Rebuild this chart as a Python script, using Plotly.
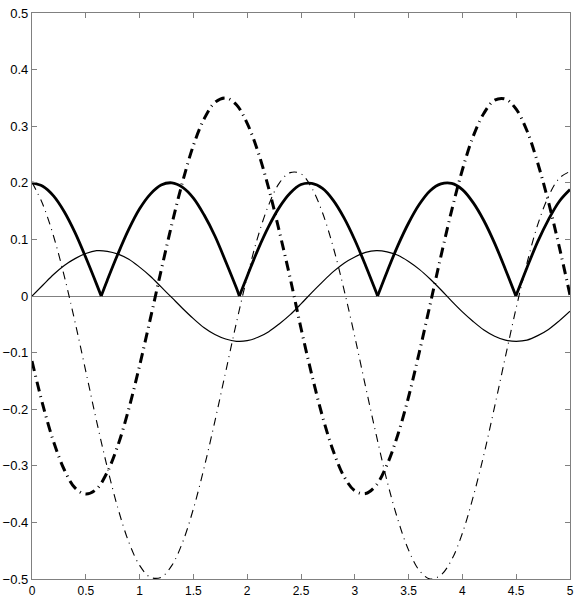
import plotly.graph_objects as go

# sample positions along x (0..5 step 0.1)
x_vals = [round(i * 0.1, 1) for i in range(51)]

# thick solid curve (rectified cosine), values read at x_vals
thick_solid = [0.200, 0.194, 0.177, 0.149, 0.112, 0.068, 0.021, 0.028, 0.075, 0.118,
               0.154, 0.180, 0.196, 0.200, 0.192, 0.173, 0.143, 0.106, 0.061, 0.014,
               0.035, 0.082, 0.123, 0.157, 0.182, 0.197, 0.199, 0.190, 0.169, 0.138,
               0.099, 0.054, 0.006, 0.043, 0.089, 0.129, 0.162, 0.186, 0.198, 0.199,
               0.188, 0.165, 0.133, 0.093, 0.047, 0.001, 0.050, 0.096, 0.135, 0.167,
               0.188]
# where the thick solid curve touches zero
cusp_x = [0.643, 1.927, 3.212, 4.497]

thin_solid = [0.000, 0.019, 0.038, 0.054, 0.066, 0.075, 0.080, 0.079, 0.074, 0.065,
              0.051, 0.035, 0.016, -0.003, -0.022, -0.040, -0.056, -0.068, -0.076, -0.080,
              -0.079, -0.073, -0.063, -0.049, -0.033, -0.014, 0.006, 0.025, 0.043, 0.058,
              0.069, 0.077, 0.080, 0.078, 0.072, 0.061, 0.047, 0.030, 0.011, -0.009,
              -0.028, -0.045, -0.060, -0.071, -0.078, -0.080, -0.078, -0.070, -0.059, -0.044,
              -0.027]

thick_dashdot = [-0.115, -0.192, -0.257, -0.307, -0.339, -0.350, -0.341, -0.311, -0.263, -0.199,
                 -0.123, -0.040, 0.045, 0.127, 0.202, 0.266, 0.313, 0.342, 0.350, 0.338,
                 0.305, 0.255, 0.190, 0.113, 0.031, -0.057, -0.139, -0.213, -0.274, -0.319,
                 -0.344, -0.349, -0.334, -0.298, -0.245, -0.178, -0.099, -0.015, 0.070, 0.151,
                 0.223, 0.282, 0.323, 0.346, 0.348, 0.330, 0.292, 0.235, 0.166, 0.087,
                 0.002]

thin_dashdot = [0.201, 0.162, 0.106, 0.035, -0.046, -0.133, -0.221, -0.303, -0.376, -0.435,
                -0.476, -0.497, -0.497, -0.476, -0.435, -0.376, -0.303, -0.221, -0.134, -0.047,
                0.034, 0.105, 0.161, 0.200, 0.218, 0.216, 0.191, 0.147, 0.086, 0.011,
                -0.072, -0.160, -0.246, -0.327, -0.395, -0.449, -0.485, -0.500, -0.493, -0.466,
                -0.419, -0.355, -0.280, -0.195, -0.107, -0.021, 0.058, 0.126, 0.176, 0.208,
                0.220]

x_ticks = [0, 0.5, 1, 1.5, 2, 2.5, 3, 3.5, 4, 4.5, 5]
y_ticks = [-0.5, -0.4, -0.3, -0.2, -0.1, 0, 0.1, 0.2, 0.3, 0.4, 0.5]

# split the rectified curve into arcs at the cusps (None breaks the spline)
ts_x, ts_y = [], []
cusps = list(cusp_x)
for x, y in zip(x_vals, thick_solid):
    while cusps and x > cusps[0]:
        c = cusps.pop(0)
        ts_x += [c, None, c]
        ts_y += [0.0, None, 0.0]
    if abs(y) < 0.004:
        continue  # too close to a cusp to be useful
    ts_x.append(x)
    ts_y.append(y)

fig = go.Figure()

fig.add_trace(go.Scatter(x=x_vals, y=thin_solid, mode="lines", line_shape="spline",
                         line=dict(color="black", width=1.2)))
fig.add_trace(go.Scatter(x=x_vals, y=thin_dashdot, mode="lines", line_shape="spline",
                         line=dict(color="black", width=1.1, dash="8px,5px,1px,5px")))
fig.add_trace(go.Scatter(x=x_vals, y=thick_dashdot, mode="lines", line_shape="spline",
                         line=dict(color="black", width=3, dash="10px,5px,1px,5px")))
fig.add_trace(go.Scatter(x=ts_x, y=ts_y, mode="lines", line_shape="spline",
                         connectgaps=False, line=dict(color="black", width=2.8)))

tick_font = dict(family="Liberation Sans, Arial, sans-serif", size=13, color="black")

axis_style = dict(
    showgrid=False,
    showline=True,
    linecolor="#808080",
    linewidth=1.3,
    mirror="ticks",
    ticks="inside",
    ticklen=5,
    tickcolor="#808080",
    tickwidth=1,
    automargin=False,
)

fig.update_xaxes(range=[0, 5], tickvals=x_ticks, ticktext=[f"{t:g}" for t in x_ticks],
                 zeroline=False, tickfont=dict(tick_font, size=12), **axis_style)
fig.update_yaxes(range=[-0.5, 0.5], tickvals=y_ticks,
                 ticktext=[f"{t:g}".replace("-", "\u2212") for t in y_ticks],
                 zeroline=True, zerolinecolor="#808080", zerolinewidth=1.3,
                 tickfont=tick_font, **axis_style)

fig.update_layout(
    width=579, height=597,
    margin=dict(l=32, r=9, t=13, b=18),
    paper_bgcolor="white",
    plot_bgcolor="white",
    showlegend=False,
)

# drop the browser's default body margin so the figure sits at the page corner
fig.write_html("out.html", config={"displayModeBar": False},
               post_script="document.body.style.margin='0';")
